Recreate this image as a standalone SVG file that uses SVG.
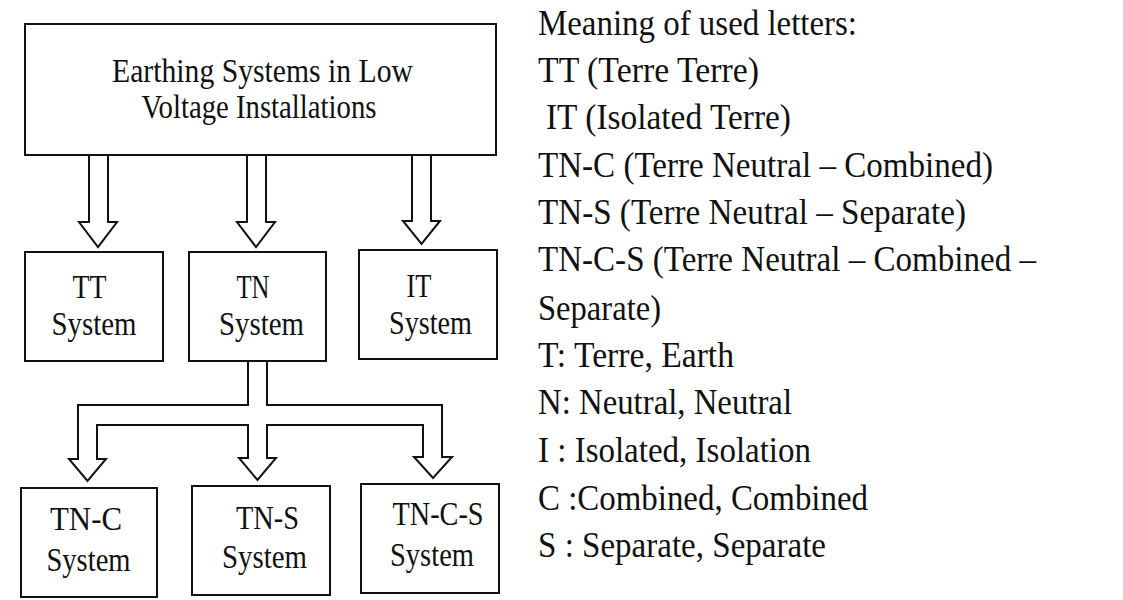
<svg xmlns="http://www.w3.org/2000/svg" width="1123" height="600" viewBox="0 0 1123 600" style="font-family:'Liberation Serif',serif">
<style>
.box{fill:#fff;stroke:#111;stroke-width:2}
.arr{fill:#fff;stroke:#111;stroke-width:2;stroke-linejoin:miter}
.t1{font-family:'Liberation Serif',serif;font-size:33px;text-anchor:middle;fill:#111}
.t2{font-family:'Liberation Serif',serif;font-size:33px;text-anchor:middle;fill:#111}
.leg{font-family:'Liberation Serif',serif;font-size:35px;fill:#111}
</style>
<rect width="1123" height="600" fill="#fff"/>
<g id="connectors">
<polygon class="arr" points="89,155 89,222 79,222 98,247 117,222 108,222 108,155"/>
<polygon class="arr" points="247,155 247,222 237,222 256,247 275,222 266,222 266,155"/>
<polygon class="arr" points="412,155 412,221 403,221 421.5,244 440,221 431,221 431,155"/>
<polygon class="arr" points="248,361 248,405 78,405 78,459 69,459 87.5,481 106,459 97,459 97,425 248,425 248,458 239,458 257.5,480 276,458 267,458 267,425 423,425 423,457 414,457 433,478 452,457 442,457 442,405 267,405 267,361"/>
</g>
<g id="root">
<rect class="box" x="25" y="24" width="471" height="131"/>
<text class="t1" x="262.5" y="82" textLength="301" lengthAdjust="spacingAndGlyphs">Earthing Systems in Low</text>
<text class="t1" x="259" y="118" textLength="235" lengthAdjust="spacingAndGlyphs">Voltage Installations</text>
</g>
<g id="tt">
<rect class="box" x="25" y="252" width="138" height="109"/>
<text class="t2" x="89.5" y="298" textLength="34" lengthAdjust="spacingAndGlyphs">TT</text>
<text class="t2" x="94" y="335" textLength="85" lengthAdjust="spacingAndGlyphs">System</text>
</g>
<g id="tn">
<rect class="box" x="189" y="252" width="137" height="109"/>
<text class="t2" x="253" y="298" textLength="33" lengthAdjust="spacingAndGlyphs">TN</text>
<text class="t2" x="261.5" y="335" textLength="85" lengthAdjust="spacingAndGlyphs">System</text>
</g>
<g id="it">
<rect class="box" x="359" y="250" width="138" height="109"/>
<text class="t2" x="419" y="297" textLength="25" lengthAdjust="spacingAndGlyphs">IT</text>
<text class="t2" x="430.5" y="334" textLength="83" lengthAdjust="spacingAndGlyphs">System</text>
</g>
<g id="tnc">
<rect class="box" x="21" y="488" width="136" height="109"/>
<text class="t2" x="86" y="530" textLength="72" lengthAdjust="spacingAndGlyphs">TN-C</text>
<text class="t2" x="88.5" y="571" textLength="84" lengthAdjust="spacingAndGlyphs">System</text>
</g>
<g id="tns">
<rect class="box" x="192" y="486" width="138" height="109"/>
<text class="t2" x="267.5" y="529" textLength="63" lengthAdjust="spacingAndGlyphs">TN-S</text>
<text class="t2" x="264.5" y="568" textLength="85" lengthAdjust="spacingAndGlyphs">System</text>
</g>
<g id="tncs">
<rect class="box" x="361" y="484" width="138" height="109"/>
<text class="t2" x="438" y="525" textLength="91" lengthAdjust="spacingAndGlyphs">TN-C-S</text>
<text class="t2" x="432" y="566" textLength="84" lengthAdjust="spacingAndGlyphs">System</text>
</g>
<g id="legend">
<text class="leg" x="538" y="35" textLength="319" lengthAdjust="spacingAndGlyphs">Meaning of used letters:</text>
<text class="leg" x="538" y="82" textLength="221" lengthAdjust="spacingAndGlyphs">TT (Terre Terre)</text>
<text class="leg" x="546" y="128.5" textLength="245" lengthAdjust="spacingAndGlyphs">IT (Isolated Terre)</text>
<text class="leg" x="538" y="177" textLength="455" lengthAdjust="spacingAndGlyphs">TN-C (Terre Neutral – Combined)</text>
<text class="leg" x="538" y="223.5" textLength="428" lengthAdjust="spacingAndGlyphs">TN-S (Terre Neutral – Separate)</text>
<text class="leg" x="538" y="271" textLength="498" lengthAdjust="spacingAndGlyphs">TN-C-S (Terre Neutral – Combined –</text>
<text class="leg" x="538" y="320" textLength="123" lengthAdjust="spacingAndGlyphs">Separate)</text>
<text class="leg" x="538" y="367" textLength="196" lengthAdjust="spacingAndGlyphs">T: Terre, Earth</text>
<text class="leg" x="538" y="414" textLength="254" lengthAdjust="spacingAndGlyphs">N: Neutral, Neutral</text>
<text class="leg" x="538" y="462" textLength="273" lengthAdjust="spacingAndGlyphs">I : Isolated, Isolation</text>
<text class="leg" x="538" y="509.5" textLength="330" lengthAdjust="spacingAndGlyphs">C :Combined, Combined</text>
<text class="leg" x="538" y="557" textLength="288" lengthAdjust="spacingAndGlyphs">S : Separate, Separate</text>
</g>
</svg>
